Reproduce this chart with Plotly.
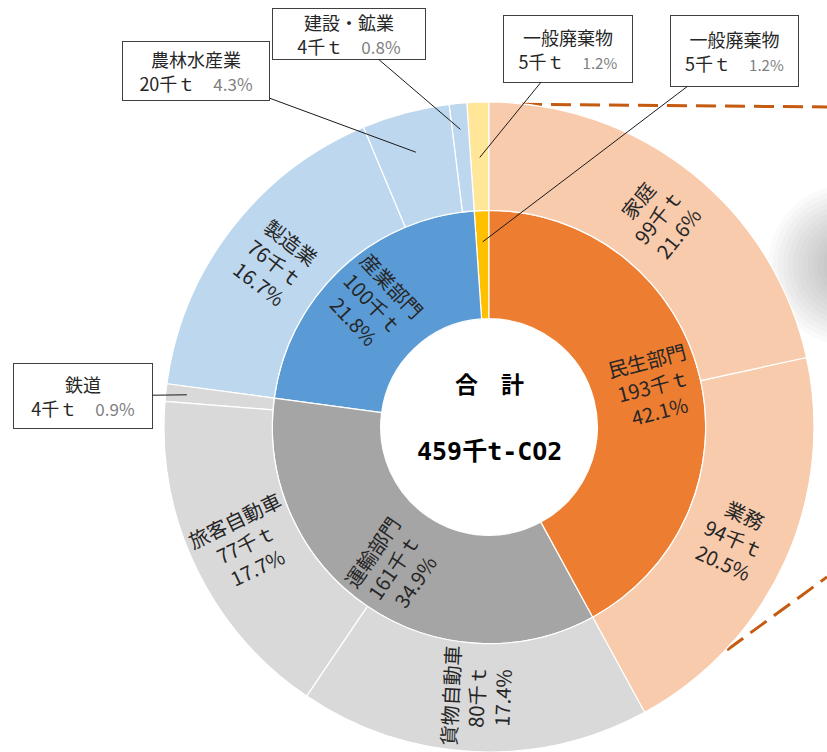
import math
import plotly.graph_objects as go

# ---------------- data ----------------
total_label = "合計"
total_value = 459
total_unit = "千t-CO2"

sectors = ["一般廃棄物", "産業部門", "運輸部門", "民生部門"]
sector_values = [5, 100, 161, 193]
sector_pcts = ["1.2%", "21.8%", "34.9%", "42.1%"]

subs = ["一般廃棄物", "建設・鉱業", "農林水産業", "製造業", "鉄道",
        "旅客自動車", "貨物自動車", "業務", "家庭"]
sub_parents = ["一般廃棄物", "産業部門", "産業部門", "産業部門", "運輸部門",
               "運輸部門", "運輸部門", "民生部門", "民生部門"]
sub_values = [5, 4, 20, 76, 4, 77, 80, 94, 99]
sub_pcts = ["1.2%", "0.8%", "4.3%", "16.7%", "0.9%", "17.7%", "17.4%", "20.5%", "21.6%"]

# ---------------- styles ----------------
sector_colors = {"一般廃棄物": "#FFC000", "産業部門": "#5B9BD5",
                 "運輸部門": "#A5A5A5", "民生部門": "#ED7D31"}
sub_colors = {"一般廃棄物": "#FFE699", "産業部門": "#BDD7EE",
              "運輸部門": "#D9D9D9", "民生部門": "#F8CBAD"}

W, H = 827, 752
cx, cy, R = 489, 427, 325
FONT = "Noto Sans CJK JP"
TXT = "#262626"
GRAY = "#7F7F7F"
INNER_RF = 0.52
OUTER_RF = 0.83
LABEL_SIZE = 20
BOX_SIZE = 18

# callouts (small segments labelled outside): key -> box centre px, size, tip radius fraction
callouts = {
    ("sector", 0): dict(bx=734, by=51, w=127, h=70, rf=0.57, small=True),
    ("sub", 0): dict(bx=568, by=49, w=128, h=66, rf=0.83, small=True),
    ("sub", 1): dict(bx=349, by=34, w=152, h=50, rf=0.92, small=False),
    ("sub", 2): dict(bx=196, by=71, w=146, h=58, rf=0.875, small=False),
    ("sub", 4): dict(bx=83, by=396, w=138, h=64, rf=0.935, small=False),
}

def vtxt(v):
    return f"{v}千ｔ"

# ---------------- build sunburst ----------------
ids = ["root"]
labels = [total_label]
parents = [""]
values = [total_value]
colors = ["#FFFFFF"]

for i, s in enumerate(sectors):
    ids.append("sec-" + s)
    labels.append(s)
    parents.append("root")
    values.append(sector_values[i])
    colors.append(sector_colors[s])

for j, s in enumerate(subs):
    ids.append("sub-" + s + str(j))
    labels.append(s)
    parents.append("sec-" + sub_parents[j])
    values.append(sub_values[j])
    colors.append(sub_colors[sub_parents[j]])

fig = go.Figure(go.Sunburst(
    ids=ids, labels=labels, parents=parents, values=values,
    branchvalues="total", sort=False, rotation=90,
    textinfo="none",
    marker=dict(colors=colors, line=dict(color="#FFFFFF", width=1.2)),
    leaf=dict(opacity=1),
    hoverinfo="skip",
    domain=dict(x=[(cx - R) / W, (cx + R) / W],
                y=[(H - cy - R) / H, (H - cy + R) / H]),
))

# ---------------- angles from data ----------------
def seg_mid_angles(vals):
    out, cum = [], 0.0
    for v in vals:
        a0 = 90 + 360 * cum / total_value
        cum += v
        a1 = 90 + 360 * cum / total_value
        out.append((a0 + a1) / 2)
    return out

sec_mid = seg_mid_angles(sector_values)
sub_mid = seg_mid_angles(sub_values)

def polar_px(ang, r):
    return cx + r * math.cos(math.radians(ang)), cy - r * math.sin(math.radians(ang))

def radial_rot(ang):
    cw = 90 - ang
    return (cw + 720) % 180 - 90

annotations = []

# inside labels (radial orientation)
for lvl, names, vals, pcts, mids, rf in [
        ("sector", sectors, sector_values, sector_pcts, sec_mid, INNER_RF),
        ("sub", subs, sub_values, sub_pcts, sub_mid, OUTER_RF)]:
    for k, name in enumerate(names):
        if (lvl, k) in callouts:
            continue
        px, py = polar_px(mids[k], rf * R)
        annotations.append(dict(
            x=px / W, y=1 - py / H, xref="paper", yref="paper", showarrow=False,
            xanchor="center", yanchor="middle",
            text=f"{name}<br>{vtxt(vals[k])}<br>{pcts[k]}",
            textangle=radial_rot(mids[k]),
            font=dict(family=FONT, size=LABEL_SIZE, color=TXT), align="center",
        ))

# callout boxes
for (lvl, idx), c in callouts.items():
    if lvl == "sector":
        ang, name, v, p = sec_mid[idx], sectors[idx], sector_values[idx], sector_pcts[idx]
    else:
        ang, name, v, p = sub_mid[idx], subs[idx], sub_values[idx], sub_pcts[idx]
    tx, ty = polar_px(ang, c["rf"] * R)
    psize = 15 if c["small"] else 17
    annotations.append(dict(
        x=tx / W, y=1 - ty / H, xref="paper", yref="paper",
        ax=c["bx"] - tx, ay=c["by"] - ty, axref="pixel", ayref="pixel",
        showarrow=True, arrowhead=0, arrowwidth=1, arrowcolor="#1a1a1a", standoff=0,
        text=f"{name}<br>{vtxt(v)}　<span style='color:{GRAY};font-size:{psize}px'>{p}</span>",
        font=dict(family=FONT, size=BOX_SIZE, color=TXT),
        align="center", width=c["w"], height=c["h"],
        bgcolor="#FFFFFF", bordercolor="#404040", borderwidth=1, borderpad=0,
    ))

# centre text
annotations.append(dict(
    x=cx / W, y=1 - 385 / H, xref="paper", yref="paper", showarrow=False,
    xanchor="center", yanchor="middle",
    text="<b>合　計</b>", font=dict(family="DejaVu Sans Mono, " + FONT, size=23, color="#000000"),
))
annotations.append(dict(
    x=cx / W, y=1 - 451 / H, xref="paper", yref="paper", showarrow=False,
    xanchor="center", yanchor="middle",
    text=f"<b>{total_value}{total_unit}</b>",
    font=dict(family="DejaVu Sans Mono, " + FONT, size=25, color="#000000"),
))

shapes = [
    dict(type="line", xref="paper", yref="paper", x0=493 / W, y0=1 - 104 / H, x1=1.0, y1=1 - 107 / H,
         line=dict(color="#C55A11", width=3, dash="20px,9px"), layer="below"),
    dict(type="line", xref="paper", yref="paper", x0=727 / W, y0=1 - 650 / H, x1=1.0, y1=1 - 577 / H,
         line=dict(color="#C55A11", width=3, dash="20px,9px"), layer="below"),
]
# soft grey haze at right edge
for k in range(14):
    rr = 80 - k * 5
    shapes.append(dict(type="circle", xref="paper", yref="paper",
                       x0=(848 - rr) / W, x1=(848 + rr) / W,
                       y0=1 - (265 + rr) / H, y1=1 - (265 - rr) / H,
                       fillcolor="#6e6e6e", opacity=0.035, line=dict(width=0), layer="below"))

fig.update_layout(
    width=W, height=H, margin=dict(l=0, r=0, t=0, b=0),
    paper_bgcolor="#FFFFFF", plot_bgcolor="#FFFFFF",
    annotations=annotations, shapes=shapes, showlegend=False,
)

fig.write_html("out.html")
